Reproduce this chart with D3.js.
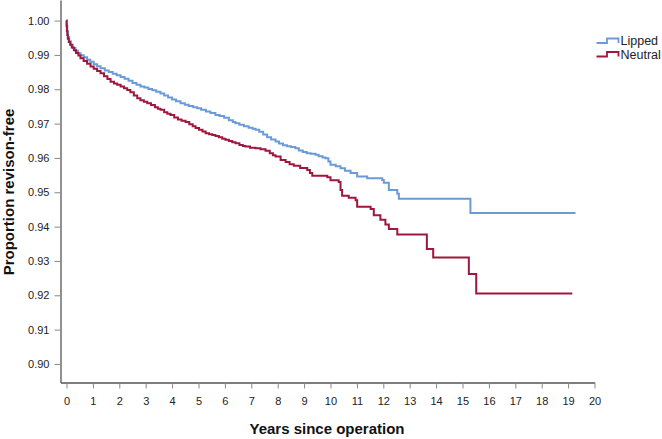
<!DOCTYPE html>
<html>
<head>
<meta charset="utf-8">
<script src="https://cdn.jsdelivr.net/npm/d3@7"></script>
<style>
  html, body { margin: 0; padding: 0; background: #fff; }
  svg { display: block; font-family: "Liberation Sans", Arial, sans-serif; }
</style>
</head>
<body>
<svg id="chart" width="662" height="439"></svg>
<script>
// ---- Data ----
const seriesNames = ["Lipped", "Neutral"];
const seriesColors = ["#6b9bd6", "#a0173d"];

const lippedTimes = [0, 0.01, 0.03, 0.06, 0.10, 0.16, 0.24, 0.34, 0.44, 0.53, 0.65, 0.78, 0.90, 1.03, 1.16, 1.29, 1.45, 1.60, 1.75, 1.90, 2.05, 2.20, 2.35, 2.50, 2.65, 2.80, 2.95, 3.10, 3.25, 3.40, 3.56, 3.70, 3.85, 4.00, 4.15, 4.32, 4.48, 4.63, 4.80, 4.95, 5.10, 5.28, 5.45, 5.64, 5.80, 5.97, 6.15, 6.30, 6.40, 6.55, 6.72, 6.90, 7.05, 7.16, 7.30, 7.45, 7.60, 7.75, 7.92, 8.05, 8.20, 8.35, 8.50, 8.67, 8.80, 8.95, 9.10, 9.25, 9.43, 9.55, 9.70, 9.81, 9.92, 10.00, 10.20, 10.38, 10.55, 10.76, 11.01, 11.39, 11.96, 12.02, 12.21, 12.53, 12.59, 15.30, 19.28];
const lippedValues = [1.0000, 0.9985, 0.9968, 0.9952, 0.9940, 0.9930, 0.9920, 0.9912, 0.9905, 0.9899, 0.9893, 0.9886, 0.9880, 0.9873, 0.9867, 0.9861, 0.9855, 0.9850, 0.9845, 0.9841, 0.9836, 0.9831, 0.9825, 0.9818, 0.9813, 0.9808, 0.9805, 0.9801, 0.9797, 0.9793, 0.9788, 0.9782, 0.9776, 0.9770, 0.9765, 0.9759, 0.9755, 0.9751, 0.9748, 0.9745, 0.9740, 0.9735, 0.9731, 0.9725, 0.9722, 0.9717, 0.9710, 0.9705, 0.9701, 0.9697, 0.9692, 0.9688, 0.9685, 0.9682, 0.9676, 0.9668, 0.9660, 0.9654, 0.9648, 0.9642, 0.9637, 0.9634, 0.9632, 0.9628, 0.9622, 0.9617, 0.9614, 0.9612, 0.9609, 0.9605, 0.9601, 0.9599, 0.9590, 0.9580, 0.9576, 0.9570, 0.9563, 0.9556, 0.9546, 0.9541, 0.9536, 0.9528, 0.9507, 0.9496, 0.9481, 0.9440, 0.9440];

const neutralTimes = [0, 0.005, 0.015, 0.03, 0.05, 0.087, 0.14, 0.20, 0.28, 0.36, 0.45, 0.53, 0.65, 0.78, 0.91, 1.03, 1.16, 1.29, 1.42, 1.55, 1.67, 1.80, 1.92, 2.05, 2.18, 2.30, 2.42, 2.55, 2.68, 2.80, 2.93, 3.06, 3.20, 3.35, 3.46, 3.56, 3.70, 3.82, 3.94, 4.08, 4.22, 4.36, 4.51, 4.65, 4.78, 4.89, 5.02, 5.15, 5.27, 5.40, 5.52, 5.64, 5.77, 5.90, 6.02, 6.15, 6.28, 6.40, 6.55, 6.68, 6.78, 6.95, 7.16, 7.35, 7.54, 7.70, 7.82, 7.92, 8.11, 8.30, 8.45, 8.61, 8.85, 9.12, 9.22, 9.31, 9.88, 10.00, 10.31, 10.38, 10.44, 10.69, 10.95, 11.01, 11.52, 11.64, 11.89, 12.08, 12.21, 12.53, 13.65, 13.89, 15.24, 15.52, 19.16];
const neutralValues = [1.0000, 0.9985, 0.9970, 0.9958, 0.9947, 0.9938, 0.9930, 0.9922, 0.9914, 0.9906, 0.9898, 0.9890, 0.9882, 0.9874, 0.9866, 0.9860, 0.9853, 0.9847, 0.9838, 0.9830, 0.9822, 0.9817, 0.9813, 0.9808, 0.9803, 0.9798, 0.9791, 0.9782, 0.9774, 0.9768, 0.9764, 0.9759, 0.9754, 0.9748, 0.9743, 0.9740, 0.9733, 0.9729, 0.9725, 0.9718, 0.9712, 0.9708, 0.9705, 0.9698, 0.9692, 0.9687, 0.9682, 0.9677, 0.9672, 0.9669, 0.9667, 0.9664, 0.9660, 0.9656, 0.9653, 0.9649, 0.9646, 0.9643, 0.9638, 0.9635, 0.9633, 0.9630, 0.9628, 0.9625, 0.9621, 0.9614, 0.9608, 0.9604, 0.9594, 0.9588, 0.9582, 0.9577, 0.9571, 0.9565, 0.9556, 0.9548, 0.9544, 0.9535, 0.9530, 0.9507, 0.9490, 0.9484, 0.9477, 0.9458, 0.9451, 0.9433, 0.9420, 0.9406, 0.9393, 0.9377, 0.9335, 0.9310, 0.9262, 0.9205, 0.9205];

const xTickValues = [0,1,2,3,4,5,6,7,8,9,10,11,12,13,14,15,16,17,18,19,20];
const yTickValues = [0.90,0.91,0.92,0.93,0.94,0.95,0.96,0.97,0.98,0.99,1.00];
const xTitle = "Years since operation";
const yTitle = "Proportion revison-free";

// ---- Drawing ----
const svg = d3.select("#chart");
const axisLeftX = 60.5, axisBottomY = 382.5;

const x = d3.scaleLinear().domain([-0.227, 20]).range([axisLeftX, 594.5]);
const y = d3.scaleLinear().domain([0.8946, 1.0060]).range([axisBottomY, 0]);

const axisColor = "#555";
const labelColor = "#222";

// Y axis
const gy = svg.append("g")
  .attr("transform", `translate(${axisLeftX},0)`)
  .call(d3.axisLeft(y).tickValues(yTickValues).tickFormat(d3.format(".2f"))
        .tickSize(6).tickSizeOuter(0).tickPadding(5));
gy.select(".domain").attr("stroke", axisColor).attr("stroke-width", 1.3);
gy.selectAll(".tick line").attr("stroke", "#888");
gy.selectAll(".tick text").attr("fill", labelColor).attr("font-size", "11px")
  .attr("font-family", "'Liberation Sans', Arial, sans-serif");

// X axis
const gx = svg.append("g")
  .attr("transform", `translate(0,${axisBottomY})`)
  .call(d3.axisBottom(x).tickValues(xTickValues).tickFormat(d3.format("d"))
        .tickSize(6).tickSizeOuter(0).tickPadding(9));
gx.select(".domain").attr("stroke", axisColor).attr("stroke-width", 1.3);
gx.selectAll(".tick line").attr("stroke", "#888");
gx.selectAll(".tick text").attr("fill", labelColor).attr("font-size", "11px")
  .attr("font-family", "'Liberation Sans', Arial, sans-serif");

// Titles
svg.append("text")
  .attr("x", 327).attr("y", 434)
  .attr("text-anchor", "middle")
  .attr("font-size", "15px").attr("font-weight", "bold").attr("fill", "#111")
  .text(xTitle);

svg.append("text")
  .attr("transform", `translate(13.5,192) rotate(-90)`)
  .attr("text-anchor", "middle")
  .attr("font-size", "15px").attr("font-weight", "bold").attr("fill", "#111")
  .text(yTitle);

// Curves
const line = d3.line()
  .x(d => x(d[0]))
  .y(d => y(d[1]))
  .curve(d3.curveStepAfter);

const series = [
  { name: seriesNames[0], color: seriesColors[0], pts: d3.zip(lippedTimes, lippedValues) },
  { name: seriesNames[1], color: seriesColors[1], pts: d3.zip(neutralTimes, neutralValues) }
];

svg.append("g").selectAll("path")
  .data(series)
  .join("path")
  .attr("d", d => line(d.pts))
  .attr("fill", "none")
  .attr("stroke", d => d.color)
  .attr("stroke-width", 2)
  .attr("stroke-linejoin", "miter");

// Legend
const legend = svg.append("g");
series.forEach((s, i) => {
  const base = 43 + i * 13.5;
  const g = legend.append("g").attr("transform", `translate(0,${base})`);
  g.append("path")
    .attr("d", "M596.5,0 H607 V-4.5 H618.5 V0")
    .attr("fill", "none").attr("stroke", s.color).attr("stroke-width", 1.8);
  g.append("text")
    .attr("x", 620.5).attr("y", 2)
    .attr("font-size", "12.5px").attr("fill", "#222")
    .text(s.name);
});
</script>
</body>
</html>
